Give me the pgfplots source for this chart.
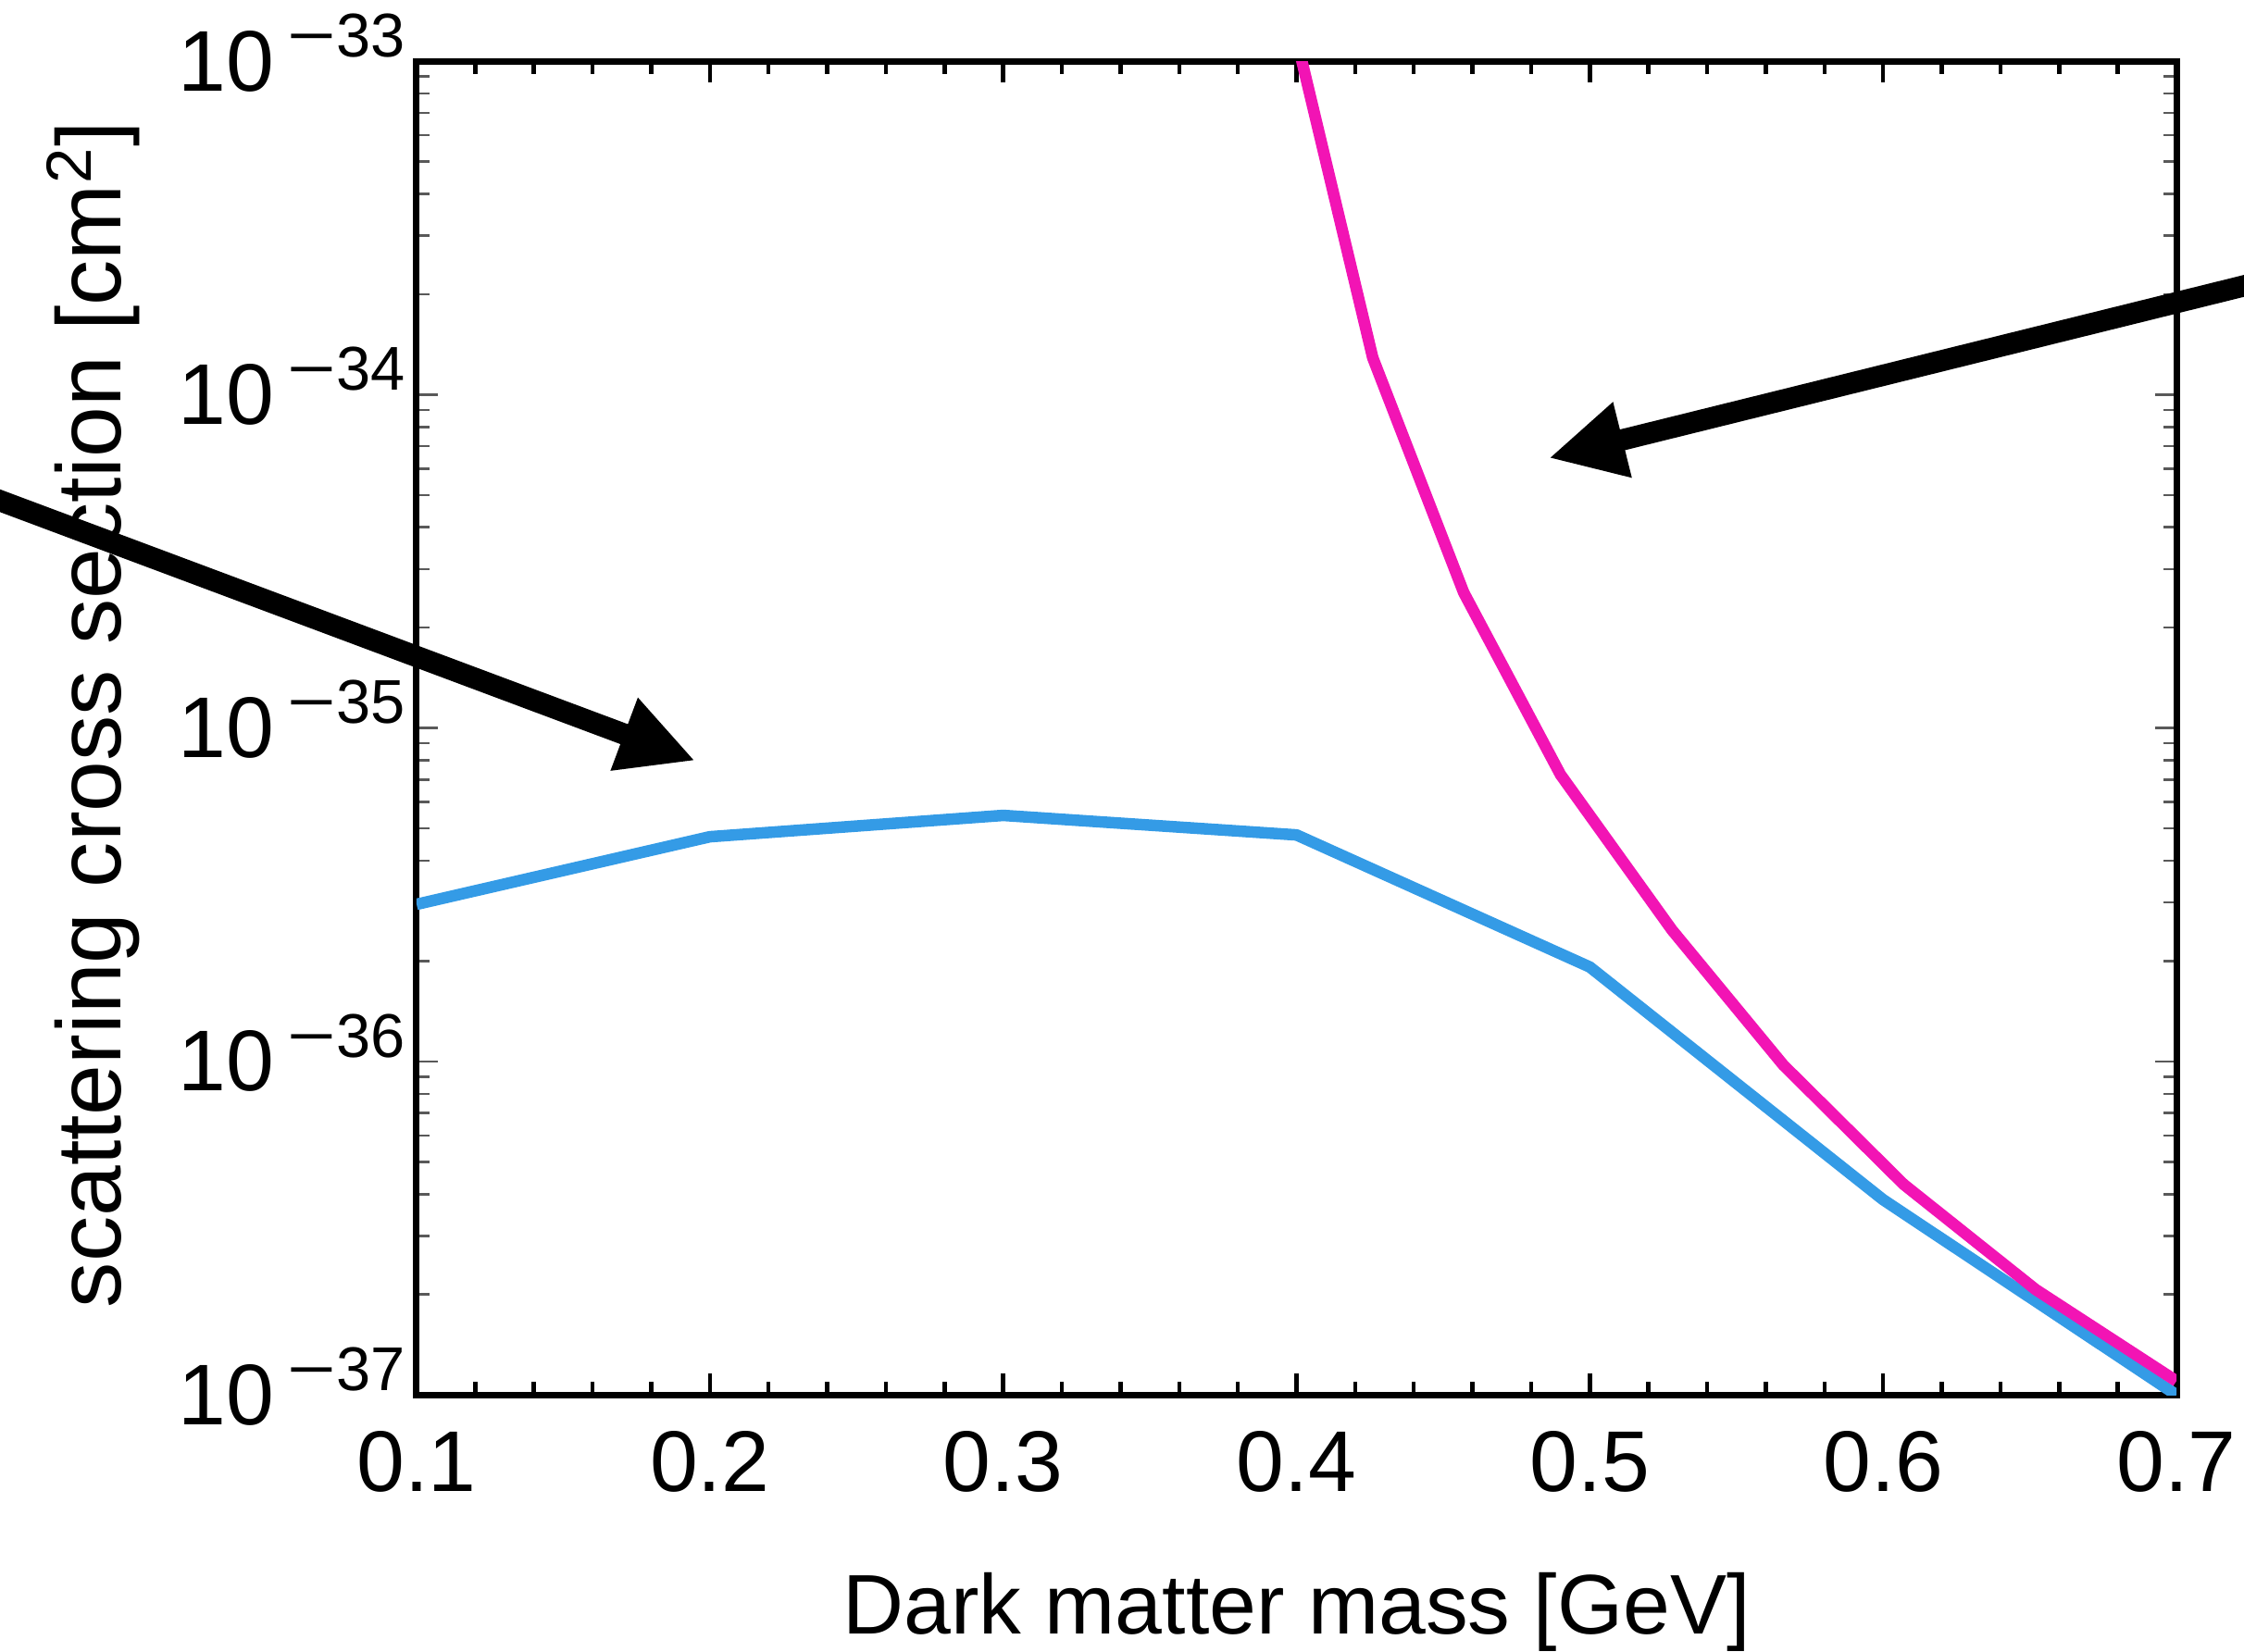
\documentclass[border=0pt]{standalone}
\usepackage{fontspec}
\setmainfont{Liberation Sans}
\usepackage{pgfplots}
\pgfplotsset{compat=1.18}
\usetikzlibrary{arrows.meta}

\definecolor{dmpink}{RGB}{242,20,180}
\definecolor{dmblue}{RGB}{52,155,230}

% 10^{-n} set in the text font, "10" centred on the tick
\newcommand{\tenpow}[1]{10\smash{\raisebox{10.5pt}{\kern4pt\fontsize{19}{19}\selectfont\scalebox{1.35}[1]{−}#1}}}

\begin{document}
\begin{tikzpicture}
\begin{axis}[
    at={(0,0)}, anchor=south west,
    scale only axis,
    width=190.1mm, height=144.1mm,
    xmin=0.1, xmax=0.7,
    ymin=1e-37, ymax=1e-33,
    ymode=log,
    xtick={0.1,0.2,0.3,0.4,0.5,0.6,0.7},
    minor x tick num=4,
    /pgf/number format/assume math mode=true,
    xticklabel style={/pgf/number format/fixed, /pgf/number format/precision=1, yshift=-2.7mm},
    yticklabel={\pgfmathtruncatemacro{\ex}{round(\tick/(-2.302585093))}\tenpow{\ex}},
    tick label style={font=\fontsize{26.5}{30}\selectfont},
    axis line style={line width=0.7mm},
    major tick length=2.3mm, minor tick length=1.4mm,
    xtick style={line width=0.45mm, black},
    ytick style={line width=0.25mm, black!65},
    xlabel={Dark matter mass [GeV]},
    ylabel={scattering cross section [cm\textsuperscript{2}]},
    xlabel style={font=\fontsize{26}{30}\selectfont, at={(axis description cs:0.5,-0.179)}, anchor=base},
    ylabel style={font=\fontsize{28}{30}\selectfont, at={(axis description cs:-0.168,0.51)}, anchor=base},
    every axis plot/.append style={line width=1.25mm, line join=round},
]
\addplot[dmblue] coordinates {
    (0.1,2.96e-36) (0.2,4.72e-36) (0.3,5.47e-36) (0.4,4.78e-36)
    (0.5,1.92e-36) (0.6,3.85e-37) (0.7,1.0e-37)
};
\addplot[dmpink] coordinates {
    (0.400,1.17e-33) (0.426,1.29e-34) (0.457,2.55e-35) (0.490,7.25e-36)
    (0.528,2.48e-36) (0.566,9.75e-37) (0.607,4.28e-37) (0.652,2.07e-37)
    (0.700,1.10e-37)
};
\end{axis}
\draw[line width=2.3mm, -{Triangle[length=8.2mm,width=7.8mm]}] (-95mm,115.3mm) -- (30.1mm,68.5mm);
\draw[line width=2.3mm, -{Triangle[length=8.2mm,width=7.8mm]}] (245mm,131.6mm) -- (122.3mm,101.2mm);
\pgfresetboundingbox
\useasboundingbox (-45mm,-27.8mm) rectangle (197.4mm,150.7mm);
\end{tikzpicture}
\end{document}
